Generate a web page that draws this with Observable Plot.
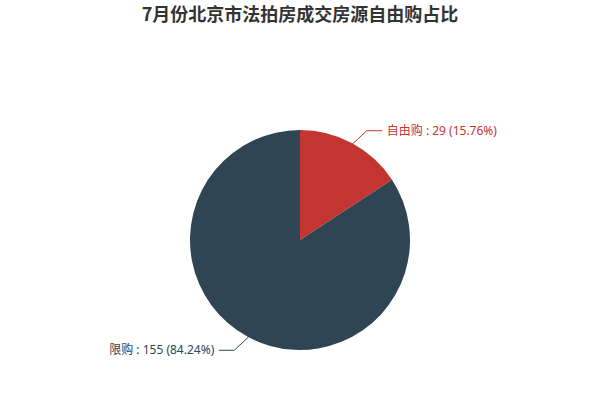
<!DOCTYPE html>
<html>
<head>
<meta charset="utf-8">
<script src="https://cdn.jsdelivr.net/npm/d3@7"></script>
<script src="https://cdn.jsdelivr.net/npm/@observablehq/plot@0.6"></script>
<style>
  html, body { margin: 0; padding: 0; background: #fff; }
  #title { height: 28px; line-height: 26px; text-align: center; font: bold 18px "Noto Sans CJK SC", sans-serif; color: #333; }
</style>
</head>
<body>
<div id="title">7月份北京市法拍房成交房源自由购占比</div>
<div id="chart"></div>
<script>
const titleText = "7月份北京市法拍房成交房源自由购占比";
const categories = ["自由购", "限购"];
const values = [29, 155];
const colors = ["#c23531", "#2f4554"];

const W = 600, H = 372;
const R = 110;            // pie radius in px
const cx = 300, cy = 212; // pie center in px
// data units: 1 = radius
const xDomain = [-cx / R, (W - cx) / R];
const yDomain = [-(H - cy) / R, cy / R];

const total = d3.sum(values);
const arcs = d3.pie().sort(null).value(d => d)(values);
const slices = arcs.map((a, i) => {
  const mid = (a.startAngle + a.endAngle) / 2;
  const sx = Math.sin(mid), sy = Math.cos(mid);
  const edge = [sx, sy];
  const dirX = sx >= 0 ? 1 : -1;
  const dirY = sy >= 0 ? 1 : -1;
  const bend = [sx + dirX * 14 / R, sy + dirY * 13 / R];
  const end = [bend[0] + dirX * 15 / R, bend[1]];
  const pct = (values[i] / total * 100).toFixed(2);
  return {
    name: categories[i], value: values[i], color: colors[i],
    start: a.startAngle, end: a.endAngle,
    line: [edge, bend, end],
    labelX: end[0] + dirX * 5 / R, labelY: end[1],
    right: dirX > 0,
    label: `${categories[i]} : ${values[i]} (${pct}%)`
  };
});

function pieMark(index, scales, vals, dims) {
  const g = d3.create("svg:g");
  const x0 = scales.x(0), y0 = scales.y(0);
  const r = scales.x(1) - scales.x(0);
  const arc = d3.arc().innerRadius(0).outerRadius(r);
  g.selectAll("path").data(slices).join("path")
    .attr("transform", `translate(${x0},${y0})`)
    .attr("d", d => arc({startAngle: d.start, endAngle: d.end}))
    .attr("fill", d => d.color);
  return g.node();
}

const lineData = slices.flatMap(s => s.line.map(p => ({x: p[0], y: p[1], name: s.name, color: s.color})));

const chart = Plot.plot({
  width: W, height: H,
  margin: 0,
  x: {domain: xDomain, axis: null},
  y: {domain: yDomain, axis: null},
  style: {fontFamily: "'Noto Sans', 'Noto Sans CJK SC', sans-serif", background: "#fff"},
  marks: [
    pieMark,
    Plot.line(lineData, {x: "x", y: "y", z: "name", stroke: "color", strokeWidth: 1}),
    Plot.text(slices.filter(d => d.right), {x: "labelX", y: "labelY", text: "label", fill: "color", textAnchor: "start", fontSize: 12}),
    Plot.text(slices.filter(d => !d.right), {x: "labelX", y: "labelY", text: "label", fill: "color", textAnchor: "end", fontSize: 12})
  ]
});
document.getElementById("chart").appendChild(chart);
</script>
</body>
</html>
